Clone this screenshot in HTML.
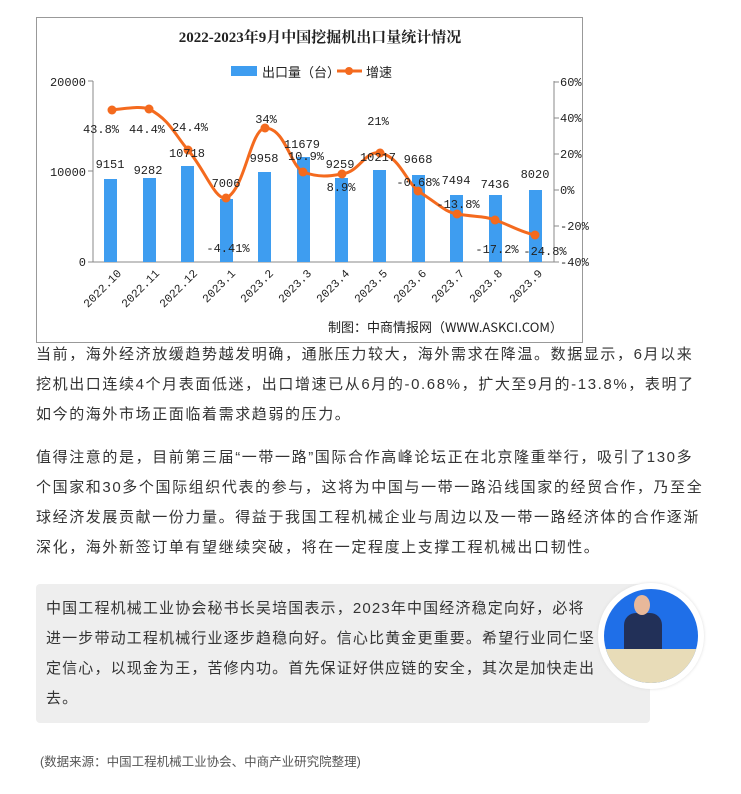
<!DOCTYPE html>
<html><head><meta charset="utf-8"><style>
body{margin:0;width:741px;height:794px;background:#fff;position:relative;overflow:hidden;font-family:"Liberation Sans","Noto Sans CJK SC",sans-serif;color:#333}
.l{position:absolute;left:36px;font-size:15px;letter-spacing:1.6px;white-space:nowrap;line-height:20px}
.b{position:absolute;left:36px;top:584px;width:614px;height:139px;background:#eeeeee;border-radius:4px}
.q{position:absolute;left:46px;font-size:15px;letter-spacing:1.15px;white-space:nowrap;line-height:20px;color:#333}
</style></head><body>
<svg width="741" height="350" style="position:absolute;left:0;top:0" font-family="Liberation Serif,'Noto Serif CJK SC',serif">
<rect x="36.5" y="17.5" width="546" height="325" fill="#fff" stroke="#999"/>
<text x="320" y="42" font-size="15" font-weight="bold" text-anchor="middle" fill="#222">2022-2023年9月中国挖掘机出口量统计情况</text>
<rect x="231" y="66" width="26" height="10" fill="#3e9df0"/>
<text x="262" y="77" font-size="13" font-family="'Noto Sans CJK SC',sans-serif" fill="#222">出口量（台）</text>
<line x1="337" y1="71" x2="362" y2="71" stroke="#f46a1e" stroke-width="3"/>
<circle cx="349" cy="71" r="4" fill="#f46a1e"/>
<text x="366" y="77" font-size="13" font-family="'Noto Sans CJK SC',sans-serif" fill="#222">增速</text>
<g stroke="#888" fill="none">
<line x1="93" y1="81" x2="93" y2="262"/><line x1="554" y1="81" x2="554" y2="262"/><line x1="93" y1="262" x2="554" y2="262"/>
<line x1="88" y1="81" x2="93" y2="81"/><line x1="88" y1="171" x2="93" y2="171"/><line x1="88" y1="262" x2="93" y2="262"/>
<line x1="554" y1="82" x2="559" y2="82"/><line x1="554" y1="118" x2="559" y2="118"/><line x1="554" y1="154" x2="559" y2="154"/><line x1="554" y1="190" x2="559" y2="190"/><line x1="554" y1="226" x2="559" y2="226"/><line x1="554" y1="262" x2="559" y2="262"/>
</g>
<g font-size="12" fill="#222" font-family="Liberation Mono,monospace">
<text x="86" y="86" text-anchor="end">20000</text><text x="86" y="176" text-anchor="end">10000</text><text x="86" y="266" text-anchor="end">0</text>
<text x="560" y="86">60%</text><text x="560" y="122">40%</text><text x="560" y="158">20%</text><text x="560" y="194">0%</text><text x="560" y="230">-20%</text><text x="560" y="266">-40%</text>
</g>
<g fill="#3e9df0">
<rect x="104" y="179" width="13" height="83"/><rect x="143" y="178" width="13" height="84"/><rect x="181" y="166" width="13" height="96"/><rect x="220" y="199" width="13" height="63"/><rect x="258" y="172" width="13" height="90"/><rect x="297" y="157" width="13" height="105"/><rect x="335" y="178" width="13" height="84"/><rect x="373" y="170" width="13" height="92"/><rect x="412" y="175" width="13" height="87"/><rect x="450" y="195" width="13" height="67"/><rect x="489" y="195" width="13" height="67"/><rect x="529" y="190" width="13" height="72"/>
</g>
<path d="M112 110 C130 108 140 106 149 109 C170 120 175 135 188 150 C205 170 215 200 226 198 C245 190 250 130 265 128 C285 128 290 165 303 172 C320 178 330 176 342 174 C360 172 365 150 380 153 C400 157 405 180 418 191 C440 205 445 212 457 214 C475 217 485 216 495 220 C510 225 520 232 535 235" stroke="#f46a1e" stroke-width="3" fill="none"/>
<g fill="#f46a1e">
<circle cx="112" cy="110" r="4.5"/><circle cx="149" cy="109" r="4.5"/><circle cx="188" cy="150" r="4.5"/><circle cx="226" cy="198" r="4.5"/><circle cx="265" cy="128" r="4.5"/><circle cx="303" cy="172" r="4.5"/><circle cx="342" cy="174" r="4.5"/><circle cx="380" cy="153" r="4.5"/><circle cx="418" cy="191" r="4.5"/><circle cx="457" cy="214" r="4.5"/><circle cx="495" cy="220" r="4.5"/><circle cx="535" cy="235" r="4.5"/>
</g>
<g font-size="12" fill="#222" font-family="Liberation Mono,monospace" text-anchor="middle">
<text x="110" y="168">9151</text><text x="148" y="174">9282</text><text x="187" y="157">10718</text><text x="226" y="187">7006</text><text x="264" y="162">9958</text><text x="302" y="148">11679</text><text x="340" y="168">9259</text><text x="378" y="161">10217</text><text x="418" y="163">9668</text><text x="456" y="184">7494</text><text x="495" y="188">7436</text><text x="535" y="178">8020</text>
<text x="101" y="133">43.8%</text><text x="147" y="133">44.4%</text><text x="190" y="131">24.4%</text><text x="228" y="252">-4.41%</text><text x="266" y="123">34%</text><text x="306" y="160">10.9%</text><text x="341" y="191">8.9%</text><text x="378" y="125">21%</text><text x="418" y="186">-0.68%</text><text x="458" y="208">-13.8%</text><text x="497" y="253">-17.2%</text><text x="545" y="255">-24.8%</text>
</g>
<g font-size="11.5" fill="#222" font-family="Liberation Mono,monospace" text-anchor="end">
<text transform="translate(122,274) rotate(-45)">2022.10</text><text transform="translate(160,274) rotate(-45)">2022.11</text><text transform="translate(198,274) rotate(-45)">2022.12</text><text transform="translate(236,274) rotate(-45)">2023.1</text><text transform="translate(274,274) rotate(-45)">2023.2</text><text transform="translate(312,274) rotate(-45)">2023.3</text><text transform="translate(350,274) rotate(-45)">2023.4</text><text transform="translate(388,274) rotate(-45)">2023.5</text><text transform="translate(427,274) rotate(-45)">2023.6</text><text transform="translate(465,274) rotate(-45)">2023.7</text><text transform="translate(503,274) rotate(-45)">2023.8</text><text transform="translate(543,274) rotate(-45)">2023.9</text>
</g>
<text x="328" y="332" font-size="13" fill="#222" font-family="'Noto Sans CJK SC',sans-serif">制图：中商情报网（WWW.ASKCI.COM）</text>
</svg>
<div class="l" style="top:345px">当前，海外经济放缓趋势越发明确，通胀压力较大，海外需求在降温。数据显示，6月以来</div>
<div class="l" style="top:375px">挖机出口连续4个月表面低迷，出口增速已从6月的-0.68%，扩大至9月的-13.8%，表明了</div>
<div class="l" style="top:405px">如今的海外市场正面临着需求趋弱的压力。</div>
<div class="l" style="top:448px">值得注意的是，目前第三届“一带一路”国际合作高峰论坛正在北京隆重举行，吸引了130多</div>
<div class="l" style="top:478px">个国家和30多个国际组织代表的参与，这将为中国与一带一路沿线国家的经贸合作，乃至全</div>
<div class="l" style="top:508px">球经济发展贡献一份力量。得益于我国工程机械企业与周边以及一带一路经济体的合作逐渐</div>
<div class="l" style="top:538px">深化，海外新签订单有望继续突破，将在一定程度上支撑工程机械出口韧性。</div>
<div class="b"></div>
<div class="q" style="top:599px">中国工程机械工业协会秘书长吴培国表示，2023年中国经济稳定向好，必将</div>
<div class="q" style="top:629px">进一步带动工程机械行业逐步趋稳向好。信心比黄金更重要。希望行业同仁坚</div>
<div class="q" style="top:659px">定信心，以现金为王，苦修内功。首先保证好供应链的安全，其次是加快走出</div>
<div class="q" style="top:689px">去。</div>
<div style="position:absolute;left:598px;top:583px;width:106px;height:106px;border-radius:50%;background:#fff;box-shadow:0 0 3px #ddd"></div>
<div style="position:absolute;left:604px;top:589px;width:94px;height:94px;border-radius:50%;background:#1f6fe8;overflow:hidden">
<div style="position:absolute;left:20px;top:24px;width:38px;height:50px;background:#223058;border-radius:12px 12px 0 0"></div>
<div style="position:absolute;left:30px;top:6px;width:16px;height:20px;background:#e8b89a;border-radius:50%"></div>
<div style="position:absolute;left:0;top:60px;width:94px;height:40px;background:#e8dcb8"></div>
</div>
<div style="position:absolute;left:40px;top:751px;font-size:12.5px;color:#555;white-space:nowrap">(数据来源：中国工程机械工业协会、中商产业研究院整理)</div>
</body></html>
